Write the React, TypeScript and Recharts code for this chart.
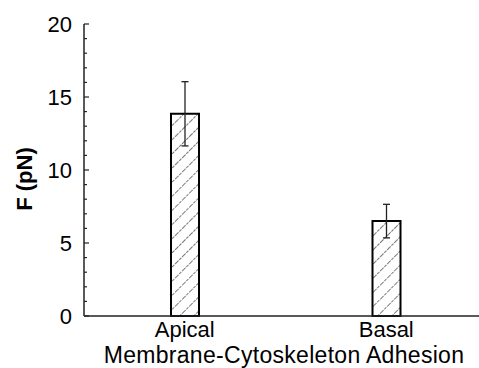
import { Bar, BarChart, ErrorBar, XAxis, YAxis, Label } from 'recharts';

const categories = ['Apical', 'Basal'];
const force = [13.85, 6.5];
const forceErr = [2.2, 1.15];
const yTicks = [0, 1, 2, 3, 4, 5, 6, 7, 8, 9, 10, 11, 12, 13, 14, 15, 16, 17, 18, 19, 20];
const yLabels = [0, 5, 10, 15, 20];

const data = categories.map((name, i) => ({ name, force: force[i], err: forceErr[i] }));

const font = '"Liberation Sans", Arial, Helvetica, sans-serif';

function YTick(props: any) {
  const { x, y, payload } = props;
  const v = payload.value;
  const major = yLabels.includes(v);
  const ax = x + 12;
  return (
    <g>
      <line x1={ax} x2={ax + (major ? 5 : 3)} y1={y} y2={y} stroke="#222" strokeWidth={1.2} />
      {major && (
        <text x={x} y={y} dy="0.36em" textAnchor="end" fontSize={22} fontFamily={font} fill="#000">
          {v}
        </text>
      )}
    </g>
  );
}

export default function App() {
  return (
    <div style={{ position: 'absolute', left: 0, top: 0, width: 479, height: 368, overflow: 'hidden', background: '#fff' }}>
      <BarChart width={487} height={368} data={data} margin={{ top: 24, right: 0, bottom: 0, left: 0 }}>
        <defs>
          <pattern id="hatch" patternUnits="userSpaceOnUse" width={10} height={10} patternTransform="rotate(45)">
            <rect width={10} height={10} fill="#fff" />
            <line x1={0} y1={0} x2={0} y2={10} stroke="#333" strokeWidth={1.3} strokeDasharray="3 1" />
          </pattern>
        </defs>
        <XAxis
          dataKey="name"
          height={52}
          axisLine={{ stroke: '#222', strokeWidth: 1.5 }}
          tickLine={false}
          tickSize={0}
          tickMargin={5}
          tick={{ fontSize: 22, fontFamily: font, fill: '#000' }}
        >
          <Label
            content={() => (
              <text x={284} y={363} textAnchor="middle" fontSize={23} letterSpacing={0.3} fontFamily={font} fill="#000">
                Membrane-Cytoskeleton Adhesion
              </text>
            )}
          />
        </XAxis>
        <YAxis
          width={84}
          domain={[0, 20]}
          ticks={yTicks}
          interval={0}
          axisLine={{ stroke: '#222', strokeWidth: 1.5 }}
          tickLine={false}
          tickSize={0}
          tickMargin={12}
          tick={<YTick />}
        >
          <Label
            content={() => (
              <text
                x={32}
                y={179}
                transform="rotate(-90 32 179)"
                textAnchor="middle"
                fontSize={22}
                fontWeight="bold"
                fontFamily={font}
                fill="#000"
              >
                F (pN)
              </text>
            )}
          />
        </YAxis>
        <Bar dataKey="force" barSize={28} fill="url(#hatch)" stroke="#000" strokeWidth={2} isAnimationActive={false}>
          <ErrorBar dataKey="err" width={3.5} stroke="#222" strokeWidth={1.3} />
        </Bar>
      </BarChart>
    </div>
  );
}
